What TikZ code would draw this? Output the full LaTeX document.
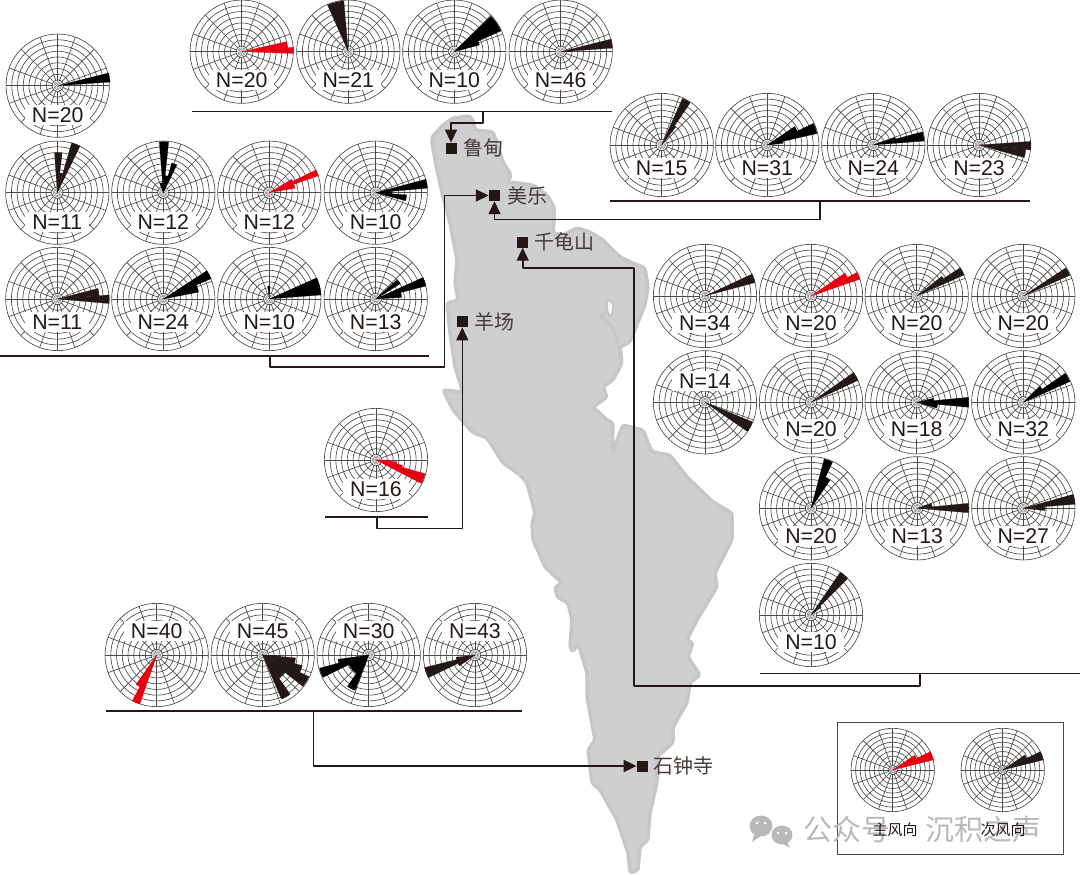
\documentclass[tikz,border=0pt]{standalone}
\usepackage{fontspec}
\setmainfont{Liberation Sans}
\newfontfamily\cjk{Noto Sans CJK SC}
\usepackage{xcolor}
\usetikzlibrary{arrows.meta,positioning,calc}
\definecolor{inkdark}{HTML}{231815}
\definecolor{roseline}{HTML}{4A4A4A}
\definecolor{rosered}{HTML}{E60012}
\definecolor{landfill}{HTML}{CFCFD1}
\definecolor{landrim}{HTML}{C7C7C9}
\definecolor{markgrey}{HTML}{B9B9B9}
\tikzset{
  gridline/.style = {draw = roseline, line width = .65pt},
  petal/.style = {fill = #1, draw = #1, line width = .2pt},
  baseline/.style = {draw = inkdark, line width = 1.6pt},
  link/.style = {draw = inkdark, line width = 1.6pt, line join = round, -{Triangle[length = 13pt, width = 12pt]}},
  site/.style = {fill = inkdark, minimum size = 11pt, inner sep = 0pt},
  sitelabel/.style = {font = \cjk\fontsize{20}{21}\selectfont, text = inkdark!85, inner sep = 0pt},
  nlabel/.style = {font = \fontsize{21.3}{22}\selectfont, text = inkdark, fill = white, inner xsep = 7pt, inner ysep = 2.5pt}
}
% empty rose: 9 rings, 16 spokes, small hub
\newcommand{\rosegrid}{
  \foreach \r in {1,...,9} \draw[gridline] (0,0) circle ({\r*5.74});
  \foreach \a in {0,20,45,70,90,110,135,160,180,200,225,250,270,290,315,340} \draw[gridline] (\a:5) -- (\a:51.7);
  \foreach \r in {1.5,2.8,4} \draw[gridline, draw = roseline!70, line width = .5pt] (0,0) circle (\r);
}
% name, x, y, label, label offset, colour, from/to/radius of the bins
\newcommand{\windrose}[7]{
  \begin{scope}[shift = {(#2,#3)}]
    \rosegrid
    \node[nlabel] (#1) at (0,#5) {#4};
    \foreach \a/\b/\r in {#7} \fill[petal = #6] (0,0) -- (\a:\r) arc[start angle = \a, end angle = \b, radius = \r] -- cycle;
  \end{scope}
}
\begin{document}
\begin{tikzpicture}[x = 1pt, y = 1pt]
\useasboundingbox (0,0) rectangle (1080,-875);

% the land
\fill[landfill, draw = landrim, line width = 3.5pt, line join = round, rounded corners = 2.5pt]
  (432,-137) -- (443,-125) -- (453,-118) -- (470,-116) -- (474,-123) -- (475,-130) -- (493,-132) -- (497,-143)
  -- (503,-162) -- (511,-175) -- (508,-182) -- (533,-185) -- (547,-195) -- (554,-207) -- (554,-223) -- (553,-233)
  -- (563,-235) -- (577,-228) -- (590,-232) -- (603,-240) -- (620,-257) -- (633,-263) -- (645,-268) -- (648,-287)
  -- (645,-305) -- (630,-342) -- (620,-347) -- (622,-363) -- (613,-380) -- (603,-387) -- (607,-397) -- (593,-407)
  -- (607,-420) -- (613,-423) -- (612,-454) -- (617,-440) -- (623,-425) -- (643,-430) -- (652,-452) -- (670,-455)
  -- (687,-477) -- (713,-502) -- (732,-513) -- (732,-540) -- (715,-573) -- (717,-587) -- (697,-620) -- (687,-640)
  -- (693,-643) -- (688,-657) -- (700,-675) -- (690,-683) -- (687,-703) -- (673,-727) -- (673,-743) -- (657,-757)
  -- (657,-783) -- (650,-813) -- (648,-840) -- (640,-847) -- (638,-870) -- (630,-873) -- (628,-853) -- (617,-820)
  -- (600,-790) -- (592,-783) -- (588,-750) -- (595,-740) -- (587,-697) -- (587,-673) -- (578,-643) -- (573,-652)
  -- (570,-647) -- (572,-620) -- (568,-603) -- (557,-597) -- (555,-587) -- (562,-583) -- (545,-567) -- (533,-540)
  -- (532,-523) -- (535,-513) -- (527,-483) -- (520,-475) -- (503,-463) -- (487,-438) -- (472,-432) -- (453,-410)
  -- (443,-390) -- (463,-392) -- (455,-367) -- (450,-333) -- (447,-303) -- (458,-300) -- (455,-283) -- (457,-260)
  -- (450,-223) -- (443,-197) -- (437,-170) -- (432,-143) -- cycle;
\draw[landrim, line width = 3pt, line join = round, rounded corners = 2.5pt]
  (606,-312) -- (600,-317) -- (613,-327) -- (620,-350);
\fill[white, draw = landrim, line width = 2pt, rounded corners = 2pt]
  (607,-300) -- (613,-302) -- (613,-312) -- (610,-317) -- (607,-310) -- cycle;

% sites
\node[site] (ludian) at (451,-148.3) {};
\node[sitelabel, right = 6.5pt of ludian] (ludianlabel) {鲁甸};
\node[site] (meile) at (494.5,-195.5) {};
\node[sitelabel, right = 7pt of meile] (meilelabel) {美乐};
\node[site] (qianguishan) at (522.7,-242) {};
\node[sitelabel, right = 6pt of qianguishan] (qianguishanlabel) {千龟山};
\node[site] (yangchang) at (462.3,-321.7) {};
\node[sitelabel, right = 6pt of yangchang] (yangchanglabel) {羊场};
\node[site] (shizhongsi) at (642.3,-766) {};
\node[sitelabel, right = 5pt of shizhongsi] (shizhongsilabel) {石钟寺};

% group lines
\draw[baseline] (191.7,-111.5) -- (611.7,-111.5);
\draw[baseline] (610,-200.7) -- (1030,-200.7);
\draw[baseline] (0,-355.7) -- (429,-355.7);
\draw[baseline] (325,-516.7) -- (427.7,-516.7);
\draw[baseline] (760,-673.3) -- (1080,-673.3);
\draw[baseline] (106,-711) -- (521.7,-711);

% connectors
\coordinate (topstub) at (482.7,-111.5);
\coordinate (eaststub) at (820,-200.7);
\coordinate (leftstub) at (270,-355.7);
\coordinate (leftbend) at (444.3,-366.7);
\coordinate (midstub) at (376.7,-516.7);
\coordinate (rightstub) at (920,-673.3);
\coordinate (rightbend) at (634,-685.7);
\coordinate (lowstub) at (313.3,-711);
\draw[link] (topstub) -- ++(0,-11.5) -| (ludian);
\draw[link] (eaststub) -- ++(0,-18.6) -| (meile);
\draw[link] (leftstub) |- (leftbend) |- (meile);
\draw[link] (rightstub) |- (rightbend) |- (522.7,-267.7) -- (qianguishan);
\draw[link] (midstub) -- ++(0,-11.6) -| (yangchang);
\draw[link] (lowstub) |- (shizhongsi);

% top row
\windrose{roseA}{241.7}{-51.7}{N=20}{-28.5}{rosered}{-2/5/52, 5/12.5/46}
\windrose{roseB}{348.3}{-51.7}{N=21}{-28.5}{inkdark}{95/114/51}
\windrose{roseC}{454.3}{-51.7}{N=10}{-28.5}{black}{24/44/51, 15/24/26}
\windrose{roseD}{560.7}{-51.7}{N=46}{-28.5}{inkdark}{4/14/52, -1/4/11}

% second group, right of the top row
\windrose{roseE}{661.7}{-145}{N=15}{-23}{inkdark}{56/66/51, 52/56/23}
\windrose{roseF}{767.3}{-145}{N=31}{-23}{black}{13/25/51, 25/34/33, 6/13/16}
\windrose{roseG}{873.3}{-145}{N=24}{-23}{black}{4.5/15/51, 15/19/23}
\windrose{roseH}{979}{-145}{N=23}{-23}{inkdark}{-5.5/4/52, -15.6/-5.5/47}

% left group
\windrose{roseI}{57.7}{-85.7}{N=20}{-29}{black}{4/14/52.5}
\windrose{roseJ}{57.3}{-192.7}{N=11}{-29}{inkdark}{64/74/52, 83/94/40, 74/83/20}
\windrose{roseK}{163.3}{-192.7}{N=12}{-29}{black}{84/94.5/51, 64/74/31, 74/84/17, 95/110/10}
\windrose{roseL}{269.3}{-192.7}{N=12}{-29}{rosered}{19/26/52, 26/31/26, 10/19/26}
\windrose{roseM}{375.7}{-192.7}{N=10}{-29}{black}{5/15/52, -15/-4/31, -4/5/16}
\windrose{roseN}{57.3}{-299}{N=11}{-23}{inkdark}{-5/4.5/52, 4.5/14.5/42}
\windrose{roseO}{163.3}{-299}{N=24}{-23}{black}{23/33/52, 11/23/36}
\windrose{roseP}{269.3}{-299}{N=10}{-23}{black}{4.5/24/52, 88/97/13}
\windrose{roseQ}{375.7}{-299}{N=13}{-23}{black}{14.5/24.5/52, 3.5/14.5/26, 32/42/29}

% single one
\windrose{roseR}{376}{-460}{N=16}{-29}{rosered}{-27.4/-15.6/51, -15.6/-11/27, -11/-5/21, -5/0/13}

% right group
\windrose{roseS}{705}{-296}{N=34}{-27}{inkdark}{15/25/52}
\windrose{roseT}{811}{-296}{N=20}{-27}{rosered}{19/27/52, 27/34/41}
\windrose{roseU}{916.7}{-296}{N=20}{-27}{inkdark}{24/33/52, 33/38/32}
\windrose{roseV}{1023.3}{-296}{N=20}{-27}{inkdark}{24/33.5/51}
\windrose{roseW}{705}{-402.3}{N=14}{21}{inkdark}{-34.5/-22.5/51.5}
\windrose{roseX}{811}{-402.3}{N=20}{-27}{inkdark}{25/35/52}
\windrose{roseY}{916.7}{-402.3}{N=18}{-27}{black}{-5.5/5.5/52, 5.5/13.5/17, -16/-5.5/21}
\windrose{roseZ}{1023.3}{-402.3}{N=32}{-27}{black}{24/34.7/51, 34.7/43/23}
\windrose{roseAA}{811}{-508.3}{N=20}{-28}{black}{65/75/51, 56/65/34}
\windrose{roseAB}{917.3}{-508.3}{N=13}{-28}{inkdark}{-5/5.6/51.5, 5.6/19/15}
\windrose{roseAC}{1023.3}{-508.3}{N=27}{-28}{inkdark}{4.5/15.6/52, -6/4.5/22}
\windrose{roseAD}{811}{-615}{N=10}{-27}{inkdark}{45/55.6/52, 38/45/13}

% bottom group
\windrose{roseAE}{156.7}{-655}{N=40}{24}{rosered}{242/251/52, 235/242/36}
\windrose{roseAF}{262.7}{-655}{N=45}{24}{inkdark}{-67/-55/48, -55/-38/28, -38/-25/51, -25/-15/41, -15/-5/33, -5/-2/18}
\windrose{roseAG}{368.7}{-655}{N=30}{24}{black}{195/206/51, 188/195/31, 236/249/38, 206/236/22}
\windrose{roseAH}{475}{-655}{N=43}{24}{inkdark}{194/206/52, 187/194/19, 206/215/19}

% legend
\node[draw = roseline, line width = 1.2pt, minimum width = 226pt, minimum height = 131.6pt, inner sep = 0pt] (legendbox) at (950.3,-788.5) {};
\begin{scope}[shift = {(892.7,-770)}, scale = .807]
  \rosegrid
  \foreach \a/\b/\r in {14/26/52, 26/34/33} \fill[petal = rosered] (0,0) -- (\a:\r) arc[start angle = \a, end angle = \b, radius = \r] -- cycle;
\end{scope}
\begin{scope}[shift = {(1002.7,-770)}, scale = .807]
  \rosegrid
  \foreach \a/\b/\r in {14/26/52, 26/34/33} \fill[petal = inkdark] (0,0) -- (\a:\r) arc[start angle = \a, end angle = \b, radius = \r] -- cycle;
\end{scope}

% watermark, under the legend text
\fill[markgrey] (761,-826) ellipse (11.5 and 10.5);
\fill[markgrey] (754,-835) -- (752,-842) -- (761,-836) -- cycle;
\fill[white] (782,-835) ellipse (12 and 11);
\fill[markgrey] (782,-835) ellipse (10.5 and 9.5);
\fill[markgrey] (787,-842) -- (790,-848) -- (781,-843) -- cycle;
\foreach \x/\y in {757/823, 765/823, 778/833, 786/833} \fill[white] (\x,-\y) circle (1.5);
\node[font = \cjk\fontsize{29}{30}\selectfont, text = markgrey, inner sep = 0pt, anchor = west] (markA) at (803,-829) {公众号};
\node[font = \cjk\fontsize{29}{30}\selectfont, text = markgrey, inner sep = 0pt, anchor = west] (markB) at (925,-829) {沉积之声};

\node[font = \cjk\fontsize{15}{16}\selectfont, text = inkdark, inner sep = 0pt] (legendmain) at (895,-830) {主风向};
\node[font = \cjk\fontsize{15}{16}\selectfont, text = inkdark, inner sep = 0pt] (legendsecond) at (1003,-830) {次风向};
\end{tikzpicture}
\end{document}
